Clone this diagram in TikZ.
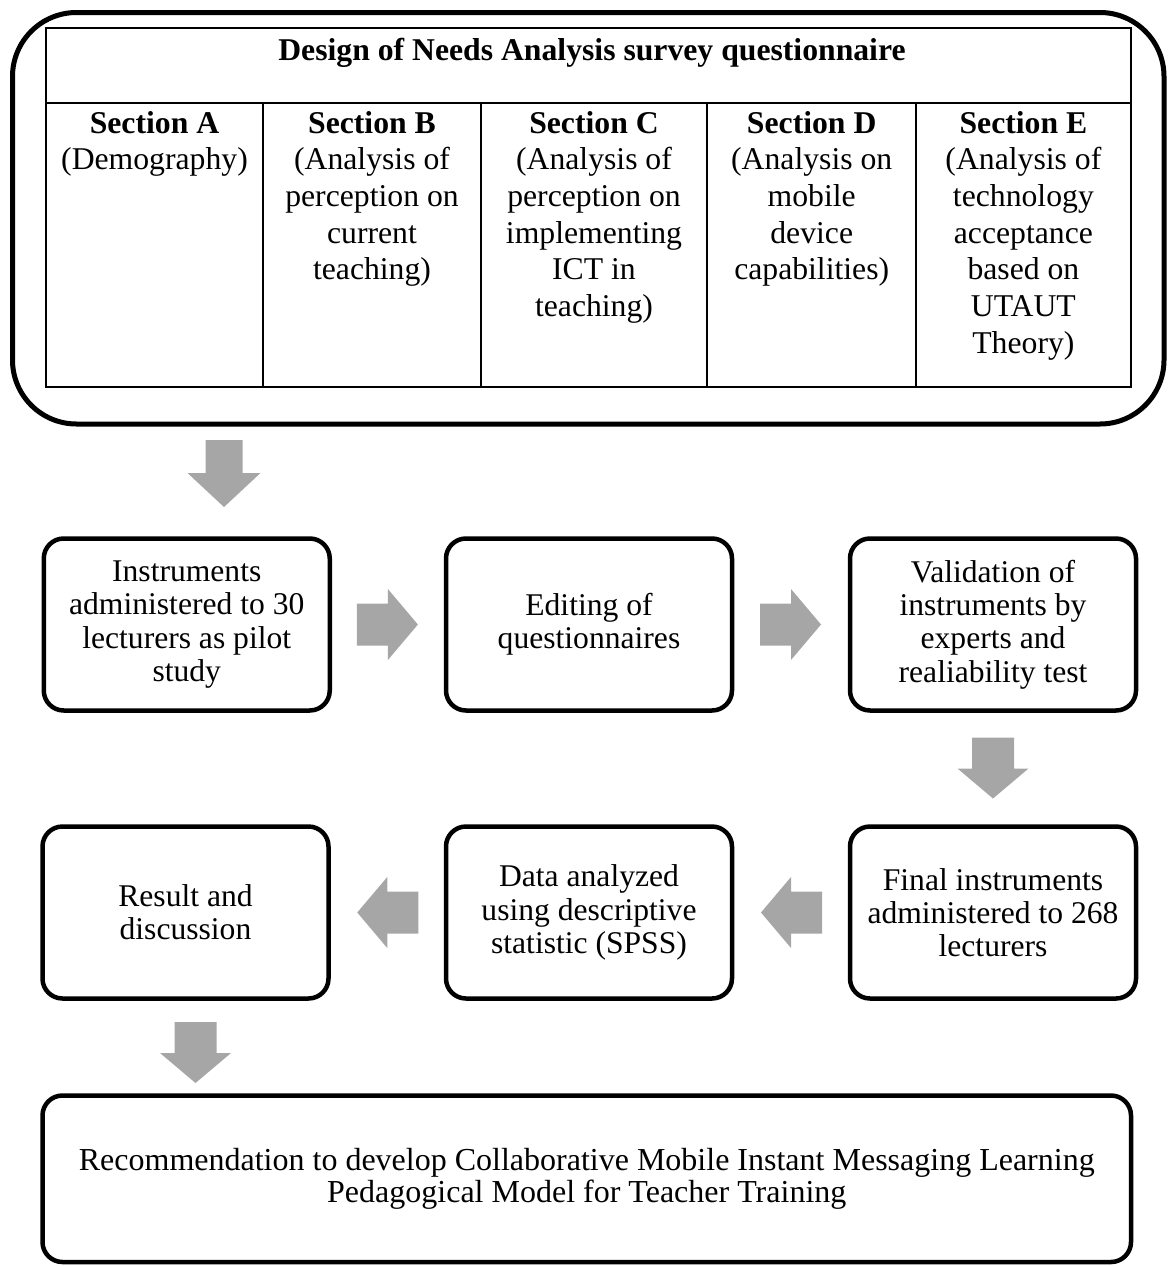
\documentclass[tikz,border=0pt]{standalone}
\usepackage{fontspec}
\setmainfont{Liberation Serif}
\usetikzlibrary{calc}
\definecolor{arrowgray}{RGB}{166,166,166}
\tikzset{
  % grey block arrow, origin at the base of the head, pointing along +x
  blockarrow/.pic={\fill[arrowgray] (-31,-21) -- (0,-21) -- (0,-35.5) -- (30,0) -- (0,35.5) -- (0,21) -- (-31,21) -- cycle;},
  slimarrow/.pic={\fill[arrowgray] (-33,-18.5) -- (0,-18.5) -- (0,-36.5) -- (34,0) -- (0,36.5) -- (0,18.5) -- (-33,18.5) -- cycle;},
}
\begin{document}
\begin{tikzpicture}[x=1pt,y=-1pt,
  flowbox/.style={draw=black, line width=4.5pt, rounded corners=20pt,
    minimum width=286pt, minimum height=172pt, inner sep=0pt, outer sep=0pt,
    align=center, font=\fontsize{31.6}{33.3}\selectfont},
  cell/.style={anchor=base, align=flush center, inner sep=0pt,
    font=\fontsize{31.7}{36.7}\selectfont},
  tblline/.style={line width=2pt},
]
\useasboundingbox (0,0) rectangle (1170,1266);

% rounded frame around the questionnaire table
\node[draw=black, line width=5pt, rounded corners=64pt, inner sep=0pt, outer sep=0pt,
  minimum width=1151.5pt, minimum height=411.5pt] (frame) at (588.25,218.25) {};

% table grid
\draw[tblline] (45.7,28.3) rectangle (1130.7,386.7);
\draw[tblline] (45.7,102.7) -- (1130.7,102.7);
\foreach \cx in {263.3,481,707.3,916}
  \draw[tblline] (\cx,102.7) -- (\cx,386.7);

% table texts
\node[cell, font=\fontsize{31.7}{36.7}\selectfont\bfseries] (head) at (592,60)
  {Design of Needs Analysis survey questionnaire};
\node[cell, text width=205pt] (secA) at (154.5,133)
  {\textbf{Section A}\\(Demography)};
\node[cell, text width=205pt] (secB) at (372,133)
  {\textbf{Section B}\\(Analysis of\\perception on\\current\\teaching)};
\node[cell, text width=215pt] (secC) at (594,133)
  {\textbf{Section C}\\(Analysis of\\perception on\\implementing\\ICT in\\teaching)};
\node[cell, text width=200pt] (secD) at (811.7,133)
  {\textbf{Section D}\\(Analysis on\\mobile\\device\\capabilities)};
\node[cell, text width=205pt] (secE) at (1023.4,133)
  {\textbf{Section E}\\(Analysis of\\technology\\acceptance\\based on\\UTAUT\\Theory)};

% process boxes
\node[flowbox] (pilot) at (186.75,624.5)
  {Instruments\\administered to 30\\lecturers as pilot\\study};
\node[flowbox] (edit) at (589,624.5)
  {Editing of\\questionnaires};
\node[flowbox] (valid) at (993,624.5)
  {Validation of\\instruments by\\experts and\\realiability test};
\node[flowbox] (final) at (993,912.5)
  {Final instruments\\administered to 268\\lecturers};
\node[flowbox] (data) at (589,912.5)
  {Data analyzed\\using descriptive\\statistic (SPSS)};
\node[flowbox] (result) at (185.5,912.5)
  {Result and\\discussion};
\node[flowbox, minimum width=1088.5pt, minimum height=166.5pt,
  font=\fontsize{32}{32.5}\selectfont] (recom) at (586.75,1178.75)
  {Recommendation to develop Collaborative Mobile Instant Messaging Learning\\Pedagogical Model for Teacher Training};

% block arrows between the stages
\pic[rotate=-90] at ($(pilot.north)+(37.25,-65.5)$) {slimarrow};
\pic at ($(pilot.east)!0.5!(edit.west)$) {blockarrow};
\pic at ($(edit.east)!0.5!(valid.west)$) {blockarrow};
\pic[rotate=-90] at ($(valid.south)!0.5!(final.north)$) {blockarrow};
\pic[rotate=180] at ($(data.east)!0.5!(final.west)$) {blockarrow};
\pic[rotate=180] at ($(result.east)!0.5!(data.west)$) {blockarrow};
\pic[rotate=-90] at ($(result.south)+(10,54.5)$) {blockarrow};
\end{tikzpicture}
\end{document}
